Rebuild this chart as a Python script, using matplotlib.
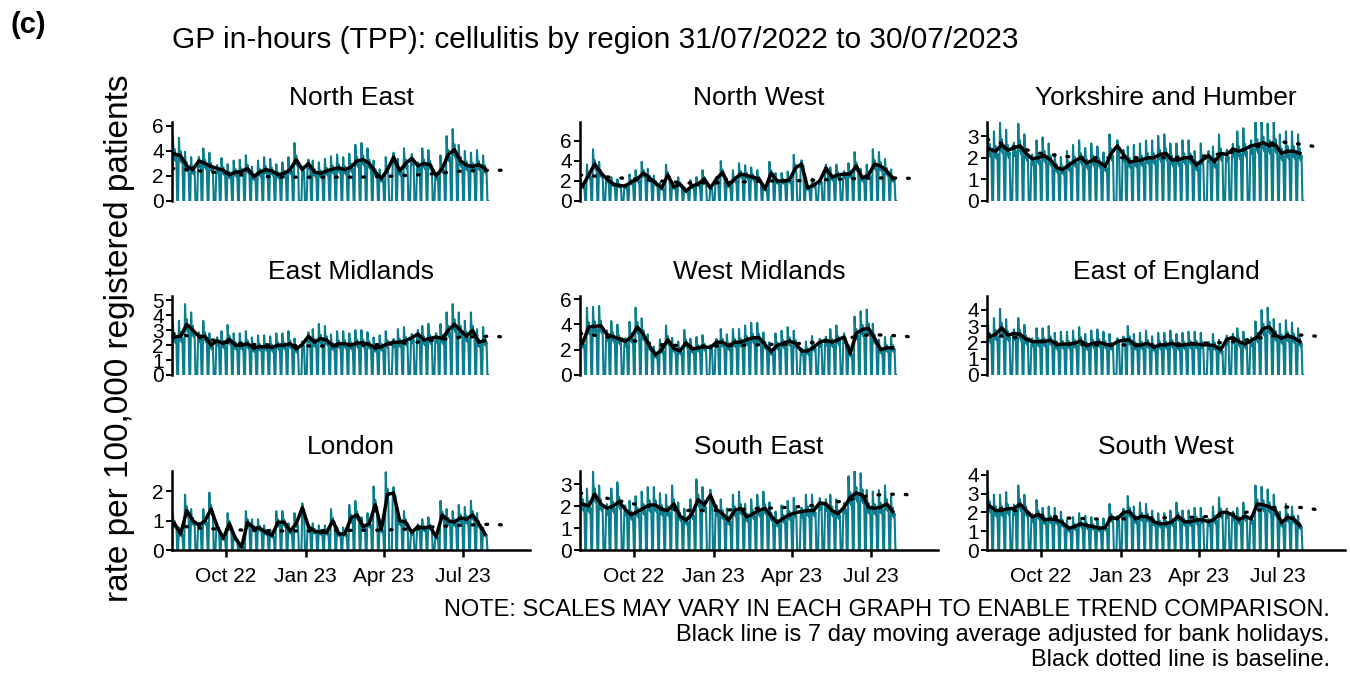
import numpy as np
import pandas as pd
import matplotlib
matplotlib.use("Agg")
import matplotlib.pyplot as plt
import matplotlib.dates as mdates
from matplotlib.ticker import MultipleLocator

plt.rcParams["font.family"] = ["Liberation Sans", "DejaVu Sans"]

# ---------------- data ----------------
regions = ["North East", "North West", "Yorkshire and Humber",
           "East Midlands", "West Midlands", "East of England",
           "London", "South East", "South West"]

# weekly level of the 7 day moving average (52 weeks starting Sun 31/07/2022)
ne = [3.75, 3.6, 2.8, 2.5, 3.2, 3.0, 2.75, 2.6, 2.45, 2.1, 2.3, 2.35, 2.6, 1.95, 2.3, 2.5, 2.4, 2.1,
      2.2, 2.5, 3.3, 2.5, 3.0, 2.3, 2.2, 2.4, 2.55, 2.65, 2.5, 2.7, 3.2, 3.3, 3.0, 2.3, 1.8, 2.5,
      3.5, 2.4, 3.0, 3.4, 2.8, 3.0, 2.9, 2.0, 2.6, 3.7, 4.1, 3.2, 2.85, 2.75, 2.9, 2.6]
nw = [1.5, 2.6, 3.7, 2.8, 2.2, 1.7, 1.55, 1.5, 1.9, 2.2, 2.8, 2.3, 1.8, 1.3, 2.6, 1.4, 1.7, 1.0,
      1.5, 1.7, 2.2, 1.3, 2.2, 2.85, 1.6, 2.2, 2.7, 2.55, 2.4, 2.2, 1.2, 2.8, 2.0, 2.0, 2.1, 3.3,
      3.7, 1.3, 1.6, 2.0, 3.3, 2.4, 2.6, 2.7, 2.7, 3.5, 2.3, 2.6, 3.7, 3.5, 3.0, 2.25]
yh = [2.4, 2.3, 2.6, 2.35, 2.45, 2.55, 2.2, 1.95, 2.0, 2.1, 1.9, 1.55, 1.45, 1.65, 1.85, 2.0, 1.75,
      1.9, 1.8, 1.6, 2.2, 2.55, 2.15, 1.8, 1.85, 1.9, 2.0, 2.0, 2.15, 2.2, 1.9, 1.9, 2.0, 2.0, 1.65,
      1.9, 2.1, 1.8, 2.2, 2.15, 2.4, 2.3, 2.4, 2.55, 2.6, 2.7, 2.55, 2.6, 2.2, 2.3, 2.3, 2.2]
em = [2.55, 2.6, 3.4, 3.0, 2.6, 2.6, 2.0, 2.3, 2.1, 2.4, 2.0, 2.0, 2.1, 1.8, 1.9, 1.9, 1.85, 2.0,
      2.0, 2.1, 1.75, 2.05, 2.6, 2.2, 2.45, 2.35, 1.95, 2.1, 2.1, 2.0, 2.15, 2.15, 2.05, 1.8, 1.9,
      2.1, 2.2, 2.2, 2.3, 2.5, 2.75, 2.35, 2.45, 2.55, 2.45, 3.0, 3.4, 3.0, 2.6, 3.0, 2.2, 2.3]
wm = [2.5, 3.8, 3.85, 3.9, 3.2, 3.05, 2.85, 2.65, 3.0, 3.8, 3.2, 2.3, 1.6, 2.0, 2.8, 2.1, 1.9, 2.55,
      2.05, 2.15, 2.25, 2.15, 2.6, 2.6, 2.3, 2.6, 2.6, 2.8, 2.95, 2.95, 2.4, 1.85, 2.35, 2.5, 2.7,
      2.5, 1.9, 1.9, 2.2, 2.6, 2.75, 2.6, 2.8, 3.0, 1.7, 3.3, 3.6, 3.7, 2.9, 2.0, 2.15, 2.15]
ee = [2.35, 2.5, 2.9, 2.45, 2.55, 2.5, 2.2, 2.05, 2.05, 2.05, 2.15, 1.85, 1.9, 1.9, 1.95, 2.1, 1.8,
      1.95, 2.0, 1.9, 1.8, 2.05, 2.15, 2.15, 1.8, 1.85, 1.95, 1.7, 1.85, 1.85, 1.95, 1.8, 1.85, 1.9,
      1.9, 1.85, 1.85, 1.8, 1.55, 2.2, 2.3, 2.05, 1.9, 2.1, 2.35, 2.85, 2.95, 2.45, 2.25, 2.4, 2.3, 2.05]
ld = [0.9, 0.55, 1.35, 1.0, 0.85, 1.0, 1.4, 0.8, 0.4, 0.9, 0.4, 0.1, 0.95, 0.75, 0.75, 0.6, 0.5, 0.95,
      0.95, 0.65, 0.9, 1.45, 0.8, 0.65, 0.6, 0.6, 1.0, 0.55, 0.55, 1.1, 1.2, 0.8, 0.9, 1.55, 0.7, 1.9,
      1.95, 1.0, 0.95, 0.6, 0.8, 0.75, 0.8, 0.45, 1.2, 1.0, 0.95, 1.1, 1.05, 1.2, 0.9, 0.55]
se = [2.1, 2.0, 2.55, 2.1, 1.9, 2.0, 2.2, 1.85, 1.6, 1.75, 1.9, 2.05, 2.05, 1.85, 1.8, 2.1, 1.55, 1.35,
      1.65, 2.3, 2.05, 2.5, 1.85, 1.65, 1.35, 1.8, 1.9, 1.5, 1.65, 1.8, 1.9, 1.55, 1.25, 1.45, 1.6, 1.7,
      1.75, 1.8, 1.8, 2.15, 2.1, 1.8, 1.65, 1.95, 2.4, 2.6, 2.5, 1.95, 1.9, 1.95, 2.1, 1.75]
sw = [2.35, 2.1, 2.1, 2.2, 2.2, 2.45, 2.1, 1.75, 1.9, 1.6, 1.65, 1.6, 1.45, 1.15, 1.25, 1.4, 1.3, 1.25,
      1.15, 1.2, 1.75, 1.65, 2.0, 2.05, 1.65, 1.8, 1.75, 1.5, 1.4, 1.4, 1.5, 1.8, 1.5, 1.5, 1.6, 1.6,
      1.5, 1.65, 2.0, 2.0, 1.85, 1.6, 1.8, 1.65, 2.45, 2.4, 2.3, 2.1, 1.45, 1.75, 1.65, 1.3]
weekly_levels = [ne, nw, yh, em, wm, ee, ld, se, sw]

# relative consultation rate by day of week (Sun..Sat), surgeries closed at weekends
weekday_profile = [0.0, 1.40, 0.90, 1.10, 0.85, 0.95, 0.0]
bank_holidays = ["2022-08-29", "2022-09-19", "2022-12-26", "2022-12-27", "2023-01-02",
                 "2023-04-07", "2023-04-10", "2023-05-01", "2023-05-08", "2023-05-29"]

# baseline (dotted) values
baseline_dates = ["2022-07-31", "2022-09-01", "2022-10-01", "2022-11-01", "2022-12-01",
                  "2023-01-01", "2023-02-01", "2023-03-01", "2023-04-01", "2023-05-01",
                  "2023-06-01", "2023-07-01", "2023-08-01", "2023-08-20"]
baselines = [
    [2.6, 2.4, 2.2, 2.0, 1.9, 1.9, 1.9, 1.9, 1.95, 2.05, 2.2, 2.4, 2.45, 2.45],
    [2.6, 2.4, 2.2, 2.0, 1.8, 1.8, 1.9, 2.0, 2.0, 2.1, 2.2, 2.3, 2.3, 2.25],
    [2.85, 2.5, 2.2, 2.05, 2.0, 2.0, 2.0, 2.0, 2.05, 2.2, 2.45, 2.75, 2.6, 2.45],
    [2.8, 2.5, 2.2, 2.05, 2.0, 1.95, 1.95, 2.0, 2.05, 2.15, 2.35, 2.55, 2.6, 2.55],
    [3.3, 3.0, 2.7, 2.4, 2.3, 2.3, 2.35, 2.4, 2.45, 2.6, 2.9, 3.2, 3.1, 3.0],
    [2.5, 2.3, 2.1, 1.9, 1.85, 1.85, 1.85, 1.9, 1.95, 2.0, 2.2, 2.45, 2.45, 2.35],
    [0.85, 0.75, 0.7, 0.67, 0.65, 0.65, 0.67, 0.67, 0.68, 0.72, 0.8, 0.85, 0.88, 0.85],
    [2.6, 2.35, 2.1, 1.9, 1.8, 1.8, 1.85, 1.9, 1.95, 2.05, 2.25, 2.5, 2.55, 2.5],
    [2.3, 2.1, 1.85, 1.7, 1.65, 1.65, 1.7, 1.72, 1.75, 1.85, 2.05, 2.3, 2.25, 2.1],
]
y_tops = [6.3, 7.9, 3.65, 5.3, 6.25, 4.85, 2.7, 3.6, 4.2]
y_steps = [2, 2, 1, 1, 2, 1, 1, 1, 1]
x_ticks = ["2022-10-01", "2023-01-01", "2023-04-01", "2023-07-01"]
x_tick_labels = ["Oct 22", "Jan 23", "Apr 23", "Jul 23"]

# ---------------- figure ----------------
W, H = 1350, 674
fig = plt.figure(figsize=(W / 100, H / 100), dpi=100)
TEAL = "#0b7d8e"

days = pd.date_range("2022-07-31", "2023-07-30", freq="D")
bh = set(pd.to_datetime(bank_holidays))
week_mid = pd.date_range("2022-08-03", periods=52, freq="7D")
bdates = pd.to_datetime(baseline_dates)
xmin = pd.Timestamp("2022-07-31")
xmax = pd.Timestamp("2023-09-16")

col_left = [172, 580, 987]
row_bottom = [201, 375, 550]
pw, ph = 358, 79

for k, name in enumerate(regions):
    r, c = divmod(k, 3)
    ax = fig.add_axes([col_left[c] / W, 1 - row_bottom[r] / H, pw / W, ph / H])
    lev = weekly_levels[k]
    daily = []
    for i, d in enumerate(days):
        wk = min(i // 7, len(lev) - 1)
        v = lev[wk] * weekday_profile[i % 7]
        if d in bh:
            v = 0.0
        daily.append(v)
    ax.plot(days, daily, color=TEAL, lw=1.5, zorder=1)
    ax.plot(bdates, baselines[k], color="black", lw=2.4, linestyle=(0, (0.5, 3.6)),
            dash_capstyle="round", zorder=2)
    ax.plot(week_mid, lev, color="black", lw=2.5, zorder=3)
    ax.set_xlim(xmin, xmax)
    ax.set_ylim(0, y_tops[k])
    ax.yaxis.set_major_locator(MultipleLocator(y_steps[k]))
    for s in ["top", "right"]:
        ax.spines[s].set_visible(False)
    ax.spines["left"].set_linewidth(1.8)
    ax.tick_params(axis="y", length=4, width=1.4, labelsize=15, pad=2, colors="black")
    ax.set_facecolor("none")
    if r < 2:
        ax.spines["bottom"].set_visible(False)
        ax.set_xticks([])
    else:
        ax.spines["bottom"].set_linewidth(1.8)
        ax.set_xticks(pd.to_datetime(x_ticks))
        ax.set_xticklabels(x_tick_labels)
        ax.tick_params(axis="x", length=5, width=1.8, labelsize=15, pad=7)
    fig.text((col_left[c] + pw / 2) / W, 1 - (row_bottom[r] - ph - 24) / H, name,
             ha="center", va="center", fontsize=19)

fig.text(10 / W, 1 - 25 / H, "(c)", fontsize=21, fontweight="bold", ha="left", va="center")
fig.text(172 / W, 1 - 40 / H, "GP in-hours (TPP): cellulitis by region 31/07/2022 to 30/07/2023",
         fontsize=21.5, ha="left", va="center")
fig.text(120 / W, 1 - 338 / H, "rate per 100,000 registered patients", rotation=90,
         fontsize=24, ha="center", va="center")
notes = ["NOTE: SCALES MAY VARY IN EACH GRAPH TO ENABLE TREND COMPARISON.",
         "Black line is 7 day moving average adjusted for bank holidays.",
         "Black dotted line is baseline."]
for j, t in enumerate(notes):
    fig.text(1330 / W, 1 - (610 + 25 * j) / H, t, fontsize=17, ha="right", va="center")

fig.savefig("out.png", dpi=100, facecolor="white")
